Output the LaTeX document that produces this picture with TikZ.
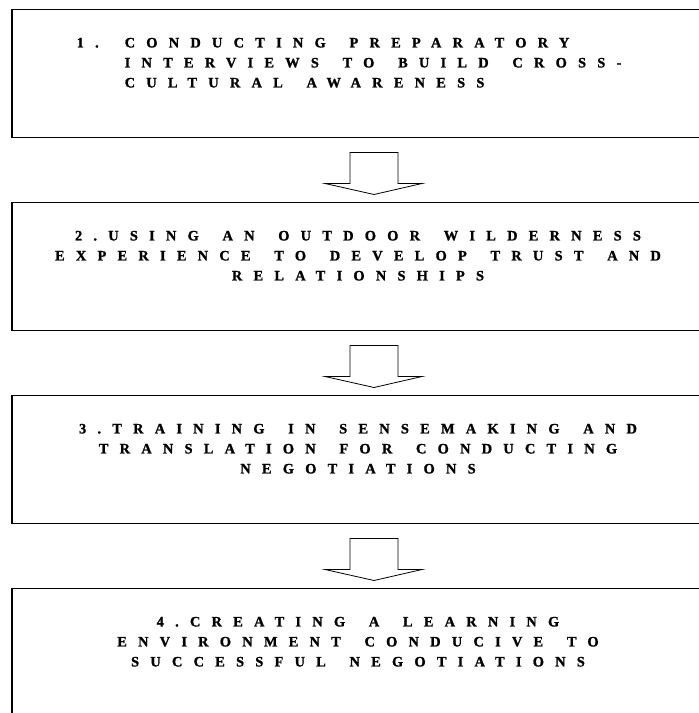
\documentclass[tikz,border=0pt]{standalone}
\usepackage{fontspec}
\newfontfamily\stepfont{Liberation Serif}[LetterSpace=78, WordSpace=1.6, BoldFeatures={FakeBold=1.2}]
\usetikzlibrary{positioning}

\begin{document}
\begin{tikzpicture}[x=1pt, y=1pt,
    stepbox/.style={rectangle, draw, line width=1pt, minimum width=692pt, minimum height=128pt, inner sep=0pt},
    steptext/.style={inner sep=0pt, align=center, font=\stepfont\bfseries\fontsize{14.4}{20}\selectfont},
    blockarrow/.style={draw, line width=0.8pt, fill=white, line join=miter}
]
\useasboundingbox (0,0) rectangle (699,713);

% the four stages
\node[stepbox] (b1) at (358,639) {};
\node[stepbox, below=64pt of b1] (b2) {};
\node[stepbox, below=64pt of b2] (b3) {};
\node[stepbox, below=64pt of b3] (b4) {};

% heavier left edges
\foreach \b in {b1,b2,b3,b4}
    \draw[line width=1.8pt] (\b.north west) -- (\b.south west);

% texts
\node[steptext, align=left, anchor=north west] (t1) at ([xshift=65pt,yshift=-28.2pt]b1.north west)
    {\makebox[48pt][l]{1.}CONDUCTING PREPARATORY\\
     \hspace*{48pt}INTERVIEWS TO BUILD CROSS-\\
     \hspace*{48pt}CULTURAL AWARENESS};
\node[steptext, below=28.2pt of b2.north] (t2)
    {2.USING AN OUTDOOR WILDERNESS\\
     EXPERIENCE TO DEVELOP TRUST AND\\
     RELATIONSHIPS};
\node[steptext, below=28.2pt of b3.north] (t3)
    {3.TRAINING IN SENSEMAKING AND\\
     TRANSLATION FOR CONDUCTING\\
     NEGOTIATIONS};
\node[steptext, below=28.2pt of b4.north] (t4)
    {4.CREATING A LEARNING\\
     ENVIRONMENT CONDUCIVE TO\\
     SUCCESSFUL NEGOTIATIONS};

% block arrows between stages
\foreach \a/\b in {b1/b2, b2/b3, b3/b4}
    \draw[blockarrow] ([xshift=-8pt,yshift=-14pt]\a.south) -- ++(0,-31) -- ++(-25,0)
        -- ([xshift=16pt,yshift=8pt]\b.north)
        -- ([xshift=64pt,yshift=-45pt]\a.south) -- ++(-24,0) -- ++(0,31) -- cycle;
\end{tikzpicture}
\end{document}
